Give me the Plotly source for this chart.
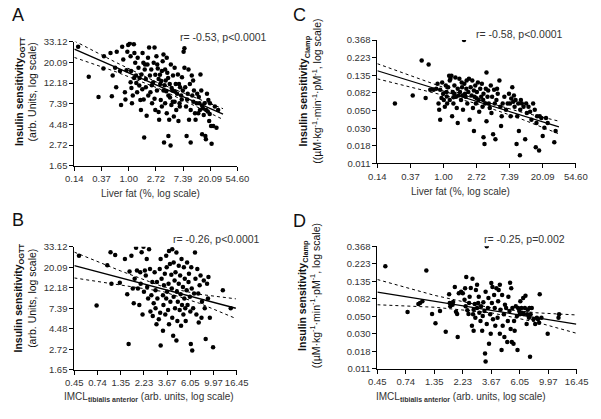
import plotly.graph_objects as go

# all values in natural-log units, as the axes are ln scales (ticks at e^n)

# panel A: ln(liver fat %) , ln(insulin sensitivity OGTT)
a_points = [(-1.86,3.38),(-1.47,2.65),(-1.11,2.16),(-0.91,3.15),(-0.93,2.85),(-0.67,3.23),(-0.59,2.68),(-0.62,2.18),
    (-0.50,2.87),(-0.44,3.26),(-0.46,2.40),(-0.32,2.79),(-0.28,1.97),(-0.24,3.38),(-0.20,3.07),(-0.14,2.28),(-0.12,2.10),
    (-0.08,2.81),(-0.05,3.26),(-0.02,3.42),(0.04,3.46),(0.07,3.15),(0.09,2.79),(0.07,2.52),(0.12,2.01),(0.15,2.20),
    (0.19,3.44),(0.21,3.23),(0.24,2.99),(0.27,2.68),(0.31,2.28),(0.33,3.11),(0.36,2.87),(0.39,2.44),(0.43,2.09),
    (0.45,1.85),(0.47,2.71),(0.51,3.23),(0.54,2.99),(0.57,1.18),(0.59,2.83),(0.63,2.60),(0.63,2.40),(0.66,1.71),
    (0.69,2.95),(0.71,3.11),(0.75,3.36),(0.78,2.68),(0.80,2.28),(0.83,2.83),(0.86,2.01),(0.90,2.52),(0.92,2.99),
    (0.95,3.36),(0.98,2.70),(0.98,1.85),(1.02,3.15),(1.04,2.32),(1.07,2.85),(1.10,2.60),(1.12,1.61),(1.16,2.48),
    (1.18,2.09),(1.22,2.79),(1.22,1.93),(1.25,3.03),(1.28,3.19),(1.28,2.32),(1.30,1.06),(1.34,2.01),(1.34,2.83),
    (1.36,2.56),(1.40,1.77),(1.40,3.11),(1.42,2.75),(1.46,2.20),(1.46,1.22),(1.49,1.61),(1.51,2.48),(1.54,0.99),
    (1.55,2.95),(1.57,1.97),(1.61,2.32),(1.63,2.68),(1.66,1.69),(1.69,2.87),(1.69,2.05),(1.73,2.48),(1.75,1.85),
    (1.78,2.24),(1.81,2.71),(1.83,1.58),(1.85,2.48),(1.87,2.01),(1.89,2.40),(1.93,2.20),(1.96,2.64),(1.99,2.32),
    (2.02,3.26),(2.05,3.34),(2.05,2.87),(2.08,2.40),(2.11,1.93),(2.13,1.22),(2.17,2.24),(2.20,2.83),(2.22,1.61),
    (2.25,2.48),(2.28,1.06),(2.32,2.68),(2.34,2.20),(2.37,2.56),(2.40,2.32),(2.44,1.77),(2.46,1.61),(2.50,2.01),
    (2.52,2.24),(2.56,1.77),(2.58,2.16),(2.60,2.01),(2.64,2.71),(2.67,2.32),(2.70,1.26),(2.73,1.89),(2.76,1.73),
    (2.79,2.01),(2.82,1.22),(2.84,1.14),(2.88,2.24),(2.91,1.81),(2.93,2.09),(2.96,1.58),(2.99,2.01),(3.03,1.46),
    (3.05,1.03),(3.11,1.46),(3.17,1.93),(3.23,1.42),(3.29,1.85),
    (1.05,2.95),(1.15,2.70),(1.20,2.55),(1.32,2.45),(1.38,2.30),(1.45,2.62),(1.52,2.15),(1.58,2.38),(1.62,2.05),
    (1.70,2.30),(0.85,2.45),(0.72,2.20),(0.60,2.95),(0.50,2.35),(0.40,2.62),(0.28,2.50),(0.20,2.62),(0.10,2.38),
    (1.88,1.93),(1.95,2.10),(2.15,2.10),(2.28,1.85),(2.38,2.05),(2.62,1.85),(2.70,1.95),(2.85,1.85),(2.98,1.75),
    (0.55,2.10),(0.95,2.12),(1.10,1.80)]
a_fit_x = [-2, -0.5, 1.1, 2.3, 3.47]
a_fit = [3.32, 2.89, 2.43, 2.09, 1.75]
a_hi = [3.52, 3.01, 2.50, 2.18, 1.88]
a_lo = [3.12, 2.78, 2.37, 2.00, 1.62]

# panel C: ln(liver fat %) , ln(insulin sensitivity clamp)
c_points = [(-1.47,-2.80),(-0.93,-2.57),(-0.66,-1.58),(-0.54,-2.64),(-0.45,-1.69),(-0.40,-2.41),(-0.30,-2.41),
    (-0.22,-2.38),(-0.18,-2.24),(-0.15,-2.80),(-0.13,-2.98),(-0.10,-3.26),(-0.10,-2.41),(-0.06,-2.64),(-0.04,-2.20),
    (-0.01,-2.52),(0.01,-2.70),(0.04,-2.89),(0.07,-2.29),(0.09,-2.47),(0.11,-2.80),(0.14,-2.34),(0.17,-2.01),
    (0.19,-2.15),(0.19,-2.70),(0.21,-2.10),(0.24,-2.01),(0.26,-3.16),(0.28,-2.47),(0.30,-2.80),(0.33,-2.52),
    (0.33,-2.29),(0.36,-2.06),(0.38,-2.61),(0.40,-2.93),(0.43,-2.38),(0.43,-3.35),(0.46,-2.57),(0.48,-2.10),
    (0.50,-2.47),(0.53,-2.70),(0.56,-2.34),(0.58,-2.57),(0.59,-2.98),(0.62,-1.00),(0.63,-2.24),(0.65,-2.52),
    (0.67,-2.61),(0.69,-2.38),(0.72,-2.80),(0.75,-2.47),(0.77,-2.10),(0.79,-3.26),(0.82,-2.34),(0.85,-2.57),
    (0.87,-2.15),(0.89,-2.93),(0.92,-2.43),(0.92,-3.58),(0.94,-2.61),(0.96,-2.29),(0.98,-2.80),(1.01,-2.47),
    (1.04,-2.20),(1.06,-2.70),(1.08,-3.03),(1.11,-2.38),(1.14,-2.61),(1.16,-2.24),(1.18,-2.89),(1.21,-2.52),
    (1.21,-3.76),(1.24,-3.95),(1.26,-2.80),(1.28,-2.38),(1.30,-1.92),(1.30,-3.30),(1.33,-2.61),(1.35,-2.43),
    (1.37,-2.80),(1.40,-2.93),(1.43,-2.29),(1.45,-3.07),(1.47,-2.61),(1.50,-3.67),(1.53,-2.41),(1.55,-2.80),
    (1.57,-3.81),(1.60,-2.70),(1.62,-2.38),(1.64,-2.52),(1.69,-2.15),(1.72,-2.89),(1.74,-3.44),(1.76,-3.16),
    (1.79,-2.80),(1.84,-2.61),(1.89,-2.98),(1.94,-2.80),(1.98,-2.52),(2.01,-2.80),(2.03,-3.16),(2.05,-2.66),
    (2.08,-2.34),(2.11,-2.75),(2.13,-2.57),(2.15,-2.89),(2.18,-2.70),(2.21,-3.95),(2.23,-3.16),(2.26,-2.80),
    (2.28,-3.58),(2.31,-4.27),(2.32,-2.98),(2.34,-2.70),(2.37,-2.80),(2.42,-2.89),(2.47,-3.81),(2.50,-2.80),
    (2.52,-3.07),(2.57,-2.89),(2.62,-3.03),(2.66,-3.26),(2.71,-2.80),(2.76,-2.98),(2.79,-4.04),(2.81,-3.35),
    (2.83,-3.16),(2.89,-4.13),(2.91,-3.16),(2.96,-3.21),(3.00,-3.72),(3.05,-3.49),(3.10,-3.21),(3.15,-3.35),
    (3.35,-3.90),(3.39,-3.58),(0.55,-2.20),(0.70,-2.15),(0.30,-2.62),(1.00,-2.65),(1.20,-2.70),(0.10,-2.60)]
c_fit_x = [-2, -0.5, 1.0, 2.3, 3.49]
c_fit = [-1.87, -2.31, -2.74, -3.12, -3.46]
c_hi = [-1.67, -2.17, -2.68, -3.03, -3.30]
c_lo = [-2.10, -2.44, -2.80, -3.22, -3.66]

# panel B: IMCL tibialis anterior (axis position) , ln(insulin sensitivity OGTT)
b_points = [(-0.70,3.28),(-0.32,2.07),(-0.09,3.05),(-0.02,3.37),(0.00,2.60),(0.08,3.30),(0.18,2.62),(0.29,3.20),
    (0.34,2.34),(0.37,1.13),(0.39,2.90),(0.43,3.28),(0.46,2.48),(0.48,2.12),(0.50,2.72),(0.53,3.48),(0.55,2.92),
    (0.57,2.48),(0.60,2.08),(0.62,2.88),(0.63,2.60),(0.65,3.37),(0.67,1.85),(0.69,3.50),(0.70,2.40),(0.72,2.92),
    (0.74,2.80),(0.76,3.20),(0.77,2.52),(0.79,2.24),(0.81,3.44),(0.83,2.96),(0.84,1.92),(0.86,2.32),(0.88,2.64),
    (0.89,1.81),(0.91,2.12),(0.93,2.88),(0.95,2.44),(0.95,2.00),(0.97,1.61),(0.98,2.64),(0.99,2.24),(1.02,1.73),
    (1.04,2.96),(1.05,1.89),(1.06,1.09),(1.06,3.20),(1.08,2.72),(1.11,2.32),(1.11,1.45),(1.12,2.08),(1.13,2.56),
    (1.15,2.84),(1.16,1.85),(1.18,3.28),(1.18,2.24),(1.19,3.00),(1.20,2.40),(1.22,1.96),(1.23,2.60),(1.24,3.40),
    (1.24,1.61),(1.26,3.08),(1.27,2.16),(1.29,2.82),(1.30,2.48),(1.31,3.44),(1.31,1.77),(1.33,1.33),(1.34,2.28),
    (1.34,3.12),(1.36,2.68),(1.37,2.00),(1.38,2.88),(1.40,1.21),(1.40,3.36),(1.41,2.40),(1.42,1.69),(1.43,2.16),
    (1.45,3.04),(1.45,2.60),(1.47,1.96),(1.48,2.80),(1.49,2.34),(1.50,1.57),(1.51,3.20),(1.52,2.08),(1.54,2.52),
    (1.55,1.85),(1.56,3.00),(1.57,2.24),(1.58,2.72),(1.59,2.00),(1.60,1.69),(1.62,2.44),(1.63,3.12),(1.64,2.08),
    (1.66,2.64),(1.67,2.84),(1.69,2.28),(1.70,1.92),(1.71,1.13),(1.72,3.00),(1.73,2.48),(1.74,0.97),(1.76,2.00),
    (1.78,2.36),(1.80,3.36),(1.81,2.72),(1.83,1.85),(1.85,2.96),(1.87,2.36),(1.88,1.65),(1.90,2.56),(1.92,2.80),
    (1.94,1.77),(1.95,2.16),(1.99,2.68),(2.01,2.00),(2.03,1.25),(2.06,2.60),(2.08,2.24),(2.09,2.76),(2.12,1.77),
    (2.19,1.05),(2.40,2.44),(2.57,2.00)]
b_fit_x = [-0.8, 0.2, 1.1, 1.9, 2.68]
b_fit = [3.04, 2.74, 2.47, 2.23, 2.00]
b_hi = [3.37, 2.91, 2.53, 2.34, 2.23]
b_lo = [2.74, 2.57, 2.41, 2.12, 1.75]

# panel D: IMCL tibialis anterior (axis position) , ln(insulin sensitivity clamp)
d_points = [(-0.66,-1.57),(-0.27,-2.88),(-0.08,-2.65),(-0.05,-2.62),(-0.01,-2.57),(0.06,-1.69),(0.16,-2.93),
    (0.22,-3.20),(0.30,-2.85),(0.40,-3.44),(0.46,-2.37),(0.47,-2.62),(0.48,-2.71),(0.52,-2.67),(0.53,-2.59),
    (0.56,-2.16),(0.58,-2.87),(0.60,-2.93),(0.61,-3.59),(0.63,-2.34),(0.67,-2.30),(0.70,-2.34),(0.73,-2.53),
    (0.74,-2.20),(0.75,-2.71),(0.76,-1.88),(0.78,-2.83),(0.80,-2.93),(0.81,-2.62),(0.82,-2.44),(0.84,-2.19),
    (0.86,-3.27),(0.87,-1.93),(0.88,-2.94),(0.89,-2.81),(0.89,-3.41),(0.91,-2.65),(0.92,-3.04),(0.93,-2.25),
    (0.95,-2.76),(0.97,-2.62),(0.98,-2.44),(0.99,-2.90),(1.01,-3.13),(1.02,-2.71),(1.04,-3.41),(1.05,-2.99),
    (1.06,-2.60),(1.08,-2.85),(1.09,-4.06),(1.10,-4.29),(1.12,-3.22),(1.12,-1.00),(1.14,-2.76),(1.15,-2.48),
    (1.16,-3.78),(1.18,-2.94),(1.19,-3.50),(1.21,-2.62),(1.22,-2.16),(1.23,-3.08),(1.25,-2.39),(1.26,-2.76),
    (1.27,-3.27),(1.29,-2.20),(1.31,-3.04),(1.32,-2.57),(1.33,-2.25),(1.35,-3.50),(1.36,-2.81),(1.38,-3.96),
    (1.39,-2.39),(1.40,-3.27),(1.42,-2.94),(1.43,-3.59),(1.44,-2.67),(1.46,-2.76),(1.48,-3.73),(1.49,-3.13),
    (1.50,-2.44),(1.52,-2.85),(1.53,-2.04),(1.54,-3.36),(1.56,-3.73),(1.57,-2.76),(1.59,-3.78),(1.60,-3.13),
    (1.61,-3.41),(1.63,-2.71),(1.65,-2.99),(1.66,-3.96),(1.67,-2.76),(1.69,-2.85),(1.70,-2.94),(1.71,-2.57),
    (1.73,-2.76),(1.74,-2.90),(1.76,-2.48),(1.77,-2.93),(1.79,-2.76),(1.80,-2.41),(1.82,-3.22),(1.83,-2.94),
    (1.84,-2.81),(1.86,-3.04),(1.87,-2.76),(1.88,-4.15),(1.89,-2.94),(1.91,-2.76),(1.94,-3.08),(1.97,-3.22),
    (2.00,-3.04),(2.02,-3.08),(2.04,-3.18),(2.05,-2.37),(2.08,-3.04),(2.19,-3.50),(2.38,-3.04),(2.39,-2.94),
    (1.20,-2.05),(1.35,-2.10),(1.55,-2.20),(1.10,-2.30),(0.95,-2.10)]
d_fit_x = [-0.8, 0.2, 1.2, 2.0, 2.69]
d_fit = [-2.31, -2.57, -2.83, -3.04, -3.22]
d_hi = [-1.95, -2.40, -2.76, -2.90, -2.96]
d_lo = [-2.67, -2.74, -2.90, -3.17, -3.48]

liver_ticks = ["0.14", "0.37", "1.00", "2.72", "7.39", "20.09", "54.60"]
imcl_ticks = ["0.45", "0.74", "1.35", "2.23", "3.67", "6.05", "9.97", "16.45"]
ogtt_ticks = ["1.65", "2.72", "4.48", "7.39", "12.18", "20.09", "33.12"]
clamp_ticks = ["0.011", "0.018", "0.030", "0.050", "0.082", "0.135", "0.223", "0.368"]

W, H = 601, 419
def fx(p): return p / W
def fy(p): return 1 - p / H

FONT = "Liberation Sans, Arial, sans-serif"
TXT = "#333"
fig = go.Figure()

panels = [
    ("", a_points, a_fit_x, a_fit, a_hi, a_lo),
    ("2", c_points, c_fit_x, c_fit, c_hi, c_lo),
    ("3", b_points, b_fit_x, b_fit, b_hi, b_lo),
    ("4", d_points, d_fit_x, d_fit, d_hi, d_lo),
]
for n, pts, fx_, fl, hi, lo in panels:
    xs, ys = zip(*pts)
    fig.add_trace(go.Scatter(x=xs, y=ys, mode="markers", xaxis="x" + n, yaxis="y" + n,
                             marker=dict(size=4.5, color="black"), showlegend=False))
    fig.add_trace(go.Scatter(x=fx_, y=fl, mode="lines", xaxis="x" + n, yaxis="y" + n,
                             line=dict(color="black", width=1.3), showlegend=False))
    for band in (hi, lo):
        fig.add_trace(go.Scatter(x=fx_, y=band, mode="lines", xaxis="x" + n, yaxis="y" + n,
                                 line=dict(color="black", width=1, dash="dot"), showlegend=False))

ax_style = dict(showline=True, linecolor="black", linewidth=1, ticks="outside", ticklen=4,
                tickcolor="black", showgrid=False, zeroline=False,
                tickfont=dict(family=FONT, size=9.5, color=TXT))

def xax(l, r, rng, labels, anchor):
    vals = [rng[0] + 0.5 * i * (2 if len(labels) == 7 else 1) for i in range(len(labels))]
    return dict(ax_style, domain=[fx(l), fx(r)], range=rng, tickvals=vals, ticktext=labels, anchor=anchor)

def yax(b, t, rng, labels, anchor):
    vals = [rng[0] + 0.5 * i for i in range(len(labels))]
    return dict(ax_style, domain=[fy(b), fy(t)], range=rng, tickvals=vals, ticktext=labels, anchor=anchor)

fig.update_layout(
    width=W, height=H, margin=dict(l=0, r=0, t=0, b=0), autosize=False,
    paper_bgcolor="white", plot_bgcolor="white",
    xaxis=xax(67.7, 236.7, [-2, 4], liver_ticks, "y"),
    yaxis=yax(164, 36.7, [0.5, 3.5], ogtt_ticks, "x"),
    xaxis2=xax(381.7, 587.3, [-2, 4], liver_ticks, "y2"),
    yaxis2=yax(161.7, 35, [-4.5, -1], clamp_ticks, "x2"),
    xaxis3=xax(67.7, 236, [-0.8, 2.7], imcl_ticks, "y3"),
    yaxis3=yax(373.5, 247.3, [0.5, 3.5], ogtt_ticks, "x3"),
    xaxis4=xax(381.7, 588.3, [-0.8, 2.7], imcl_ticks, "y4"),
    yaxis4=yax(372.7, 246.7, [-4.5, -1], clamp_ticks, "x4"),
)

def note(x, y, text, size=10, angle=0, color=TXT):
    fig.add_annotation(x=fx(x), y=fy(y), xref="paper", yref="paper", text=text, showarrow=False,
                       xanchor="center", yanchor="middle", textangle=angle,
                       font=dict(family=FONT, size=size, color=color))

for x, y, t in [(9, 9, "A"), (301, 9, "C"), (9, 220, "B"), (301, 221, "D")]:
    note(x, y, t, size=18, color="#111")

note(222, 32, "r= -0.53, p<0.0001", 10.5)
note(529, 29, "r= -0.58, p<0.0001", 10.5)
note(215, 239, "r= -0.26, p<0.0001", 10.5)
note(534, 239, "r= -0.25, p=0.002", 10.5)

note(147, 193, "Liver fat (%, log scale)", 10)
note(468, 190, "Liver fat (%, log scale)", 10)
imcl = "IMCL<sub><b>tibialis anterior</b></sub> (arb. units, log scale)"
note(145, 402, imcl, 10)
note(468, 402, imcl, 10)

ogtt_title = "<b>Insulin sensitivity<sub>OGTT</sub></b><br>(arb. Units, log scale)"
clamp_title = ("<b>Insulin sensitivity<sub>Clamp</sub></b><br>"
               "((µM·kg<sup>-1</sup>·min<sup>-1</sup>·pM<sup>-1</sup>, log scale)")
note(17, 88, ogtt_title, 10.5, -90, "#111")
note(312, 88, clamp_title, 10.5, -90, "#111")
note(17, 300, ogtt_title, 10.5, -90, "#111")
note(311, 298, clamp_title, 10.5, -90, "#111")

# page body has a default 8px margin; drop it so the figure sits at the window origin
fig.write_html("out.html", config={"displayModeBar": False},
               post_script="document.body.style.margin='0';")
